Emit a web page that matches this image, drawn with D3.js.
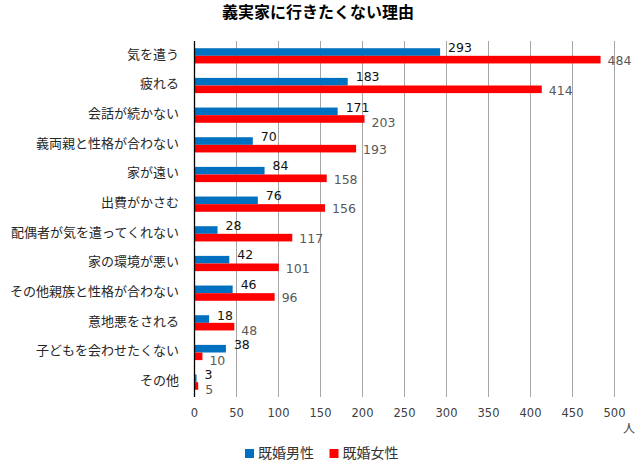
<!DOCTYPE html>
<html lang="ja">
<head>
<meta charset="UTF-8">
<title>義実家に行きたくない理由</title>
<script src="https://cdn.jsdelivr.net/npm/d3@7/dist/d3.min.js"></script>
<style>
  body { margin: 0; background: #fff; }
  text { font-family: "Noto Sans CJK JP", "Noto Sans", sans-serif; }
  .num { font-family: "DejaVu Sans", Verdana, sans-serif; }
</style>
</head>
<body>
<svg id="chart" width="640" height="469"></svg>
<script>
// データ
var categories = ["気を遣う", "疲れる", "会話が続かない", "義両親と性格が合わない", "家が遠い",
  "出費がかさむ", "配偶者が気を遣ってくれない", "家の環境が悪い", "その他親族と性格が合わない",
  "意地悪をされる", "子どもを会わせたくない", "その他"];
var seriesNames = ["既婚男性", "既婚女性"];
var men = [293, 183, 171, 70, 84, 76, 28, 42, 46, 18, 38, 3];
var women = [484, 414, 203, 193, 158, 156, 117, 101, 96, 48, 10, 5];
var xTicks = [0, 50, 100, 150, 200, 250, 300, 350, 400, 450, 500];

var colors = ["#0070C0", "#FF0000"];
var labelColors = ["#111111", "#595959"];

var margin = { top: 41, left: 194, right: 26, bottom: 72 };
var width = 640, height = 469;

var svg = d3.select("#chart");

var x = d3.scaleLinear()
  .domain([0, 500])
  .range([margin.left, width - margin.right]);

var y = d3.scaleBand()
  .domain(categories)
  .range([margin.top, height - margin.bottom])
  .paddingInner(0.487)
  .paddingOuter(0.2435);

var sub = d3.scaleBand()
  .domain(seriesNames)
  .range([0, y.bandwidth()]);

// タイトル
svg.append("text")
  .attr("x", 318)
  .attr("y", 12)
  .attr("dy", "0.36em")
  .attr("text-anchor", "middle")
  .attr("font-size", 16)
  .attr("font-weight", "bold")
  .attr("fill", "#000")
  .text("義実家に行きたくない理由");

// グリッド線
svg.append("g")
  .selectAll("line")
  .data(xTicks.filter(function (d) { return d > 0; }))
  .enter()
  .append("line")
  .attr("x1", function (d) { return x(d) + 0.5; })
  .attr("x2", function (d) { return x(d) + 0.5; })
  .attr("y1", margin.top)
  .attr("y2", height - margin.bottom)
  .attr("stroke", "#a6a6a6")
  .attr("stroke-width", 1);

// x軸ラベル
var xAxis = d3.axisBottom(x)
  .tickValues(xTicks)
  .tickSize(0)
  .tickPadding(0);

var gx = svg.append("g")
  .attr("transform", "translate(0," + (height - margin.bottom + 12) + ")")
  .call(xAxis);
gx.select(".domain").remove();
gx.selectAll("text")
  .attr("class", "num")
  .attr("font-size", 11.5)
  .attr("fill", "#404040")
  .attr("dy", "0.72em");

svg.append("text")
  .attr("x", 629)
  .attr("y", 429)
  .attr("dy", "0.36em")
  .attr("text-anchor", "middle")
  .attr("font-size", 12)
  .attr("fill", "#404040")
  .text("人");

// カテゴリラベル
svg.append("g")
  .selectAll("text")
  .data(categories)
  .enter()
  .append("text")
  .attr("x", margin.left - 15)
  .attr("y", function (d) { return y(d) + y.bandwidth() / 2 - 2; })
  .attr("dy", "0.36em")
  .attr("text-anchor", "end")
  .attr("font-size", 13)
  .attr("fill", "#262626")
  .text(function (d) { return d; });

// 棒
var series = [men, women];
var labelDx = [8, 7];

// ラベルが横に近いときは上下に離す
function labelDy(s, i) {
  var close = Math.abs(x(men[i]) - x(women[i])) < 30;
  if (s === 0) return close ? -4 : -5;
  return close ? 4 : 1;
}

series.forEach(function (values, s) {
  var g = svg.append("g");
  g.selectAll("rect")
    .data(values)
    .enter()
    .append("rect")
    .attr("x", x(0))
    .attr("y", function (d, i) { return y(categories[i]) + sub(seriesNames[s]); })
    .attr("width", function (d) { return x(d) - x(0); })
    .attr("height", sub.bandwidth())
    .attr("fill", colors[s]);

  g.selectAll("text")
    .data(values)
    .enter()
    .append("text")
    .attr("class", "num")
    .attr("x", function (d) { return x(d) + labelDx[s]; })
    .attr("y", function (d, i) {
      return y(categories[i]) + sub(seriesNames[s]) + sub.bandwidth() / 2 + labelDy(s, i);
    })
    .attr("dy", "0.36em")
    .attr("font-size", 12.5)
    .attr("fill", labelColors[s])
    .text(function (d) { return d; });
});

// 縦軸
svg.append("line")
  .attr("x1", x(0) + 0.5)
  .attr("x2", x(0) + 0.5)
  .attr("y1", margin.top)
  .attr("y2", height - margin.bottom)
  .attr("stroke", "#000")
  .attr("stroke-width", 1.3);

// 凡例
var legend = svg.append("g")
  .selectAll("g")
  .data(seriesNames)
  .enter()
  .append("g")
  .attr("transform", function (d, i) { return "translate(" + (245 + i * 84.5) + ",449)"; });

legend.append("rect")
  .attr("width", 9)
  .attr("height", 9)
  .attr("fill", function (d, i) { return colors[i]; });

legend.append("text")
  .attr("x", 13)
  .attr("y", 4)
  .attr("dy", "0.36em")
  .attr("font-size", 14)
  .attr("fill", "#333")
  .text(function (d) { return d; });
</script>
</body>
</html>
